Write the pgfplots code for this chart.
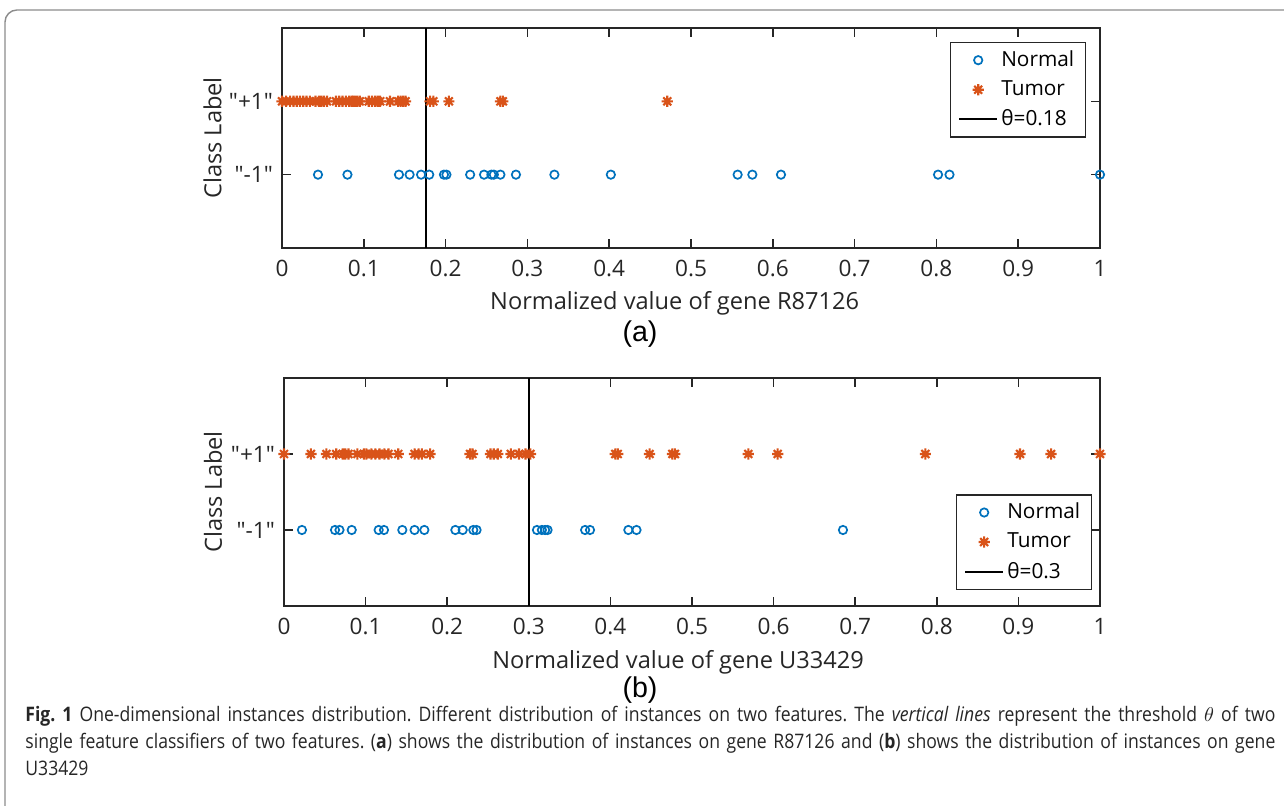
\documentclass[border=0pt]{standalone}
\usepackage{fontspec}
\setmainfont{Open Sans}
\newfontfamily\arialf{Liberation Sans}
\newfontfamily\capfont[FakeStretch=0.88]{Open Sans}
\usepackage{pgfplots}
\pgfplotsset{compat=1.18}
\definecolor{axc}{HTML}{262626}
\definecolor{mblue}{HTML}{0072BD}
\definecolor{morange}{HTML}{D95319}
\definecolor{frame}{HTML}{8C8C8C}
\newcommand{\q}{\textquotedbl}
\newcommand{\labfont}{\fontsize{11.8}{14}\selectfont}
\pgfdeclareplotmark{mstar}{%
 \pgfpathmoveto{\pgfqpoint{-\pgfplotmarksize}{0pt}}\pgfpathlineto{\pgfqpoint{\pgfplotmarksize}{0pt}}%
 \pgfpathmoveto{\pgfqpoint{0pt}{-\pgfplotmarksize}}\pgfpathlineto{\pgfqpoint{0pt}{\pgfplotmarksize}}%
 \pgfpathmoveto{\pgfqpoint{-0.707\pgfplotmarksize}{-0.707\pgfplotmarksize}}\pgfpathlineto{\pgfqpoint{0.707\pgfplotmarksize}{0.707\pgfplotmarksize}}%
 \pgfpathmoveto{\pgfqpoint{-0.707\pgfplotmarksize}{0.707\pgfplotmarksize}}\pgfpathlineto{\pgfqpoint{0.707\pgfplotmarksize}{-0.707\pgfplotmarksize}}%
 \pgfusepathqstroke}
\pgfplotsset{
 ptlegend/.style={legend image code/.code={\draw[##1] plot coordinates {(9.5pt,0pt)};}},
 lnlegend/.style={legend image code/.code={\draw[##1] (0pt,0pt) -- (19pt,0pt);}},
 normalpts/.style={only marks, mark=o, mark size=2.1pt, draw=mblue, mark options={line width=0.85pt, draw=mblue}, ptlegend},
 tumorpts/.style={only marks, mark=mstar, mark size=2.8pt, draw=morange, mark options={line width=1.05pt, draw=morange}, ptlegend},
 thline/.style={black, line width=0.9pt, lnlegend},
 mystyle/.style={
  scale only axis, clip=false,
  xmin=0, xmax=1, ymin=0, ymax=3,
  xtick={0,0.1,0.2,0.3,0.4,0.5,0.6,0.7,0.8,0.9,1},
  xticklabels={0,0.1,0.2,0.3,0.4,0.5,0.6,0.7,0.8,0.9,1},
  ytick={1,2}, yticklabels={{\q-1\q},{\q+1\q}},
  axis line style={draw=axc, line width=0.8pt},
  tick style={draw=axc, line width=0.8pt},
  major tick length=4.5pt,
  ticklabel style={font=\fontsize{11.3}{13}\selectfont, text=axc},
  xticklabel style={yshift=-2.5pt},
  yticklabel style={xshift=-1pt},
  /pgf/number format/assume math mode=true,
  legend cell align=left,
  legend style={draw=axc, line width=0.6pt, fill=white, font=\fontsize{10.4}{12}\selectfont, text=black,
    inner xsep=4pt, inner ysep=2.5pt, row sep=2.4pt, nodes={inner sep=1.6pt}},
 }
}
\begin{document}
\begin{tikzpicture}
\path[use as bounding box] (0,0) rectangle (642pt,403pt);
\draw[frame, line width=0.7pt, rounded corners=6pt] (2.5pt,-10pt) -- (2.5pt,398pt) -- (660pt,398pt);
% ---------- (a)
\begin{axis}[mystyle, at={(141pt,279pt)}, anchor=south west, width=409pt, height=110pt,
  xlabel={Normalized value of gene R87126}, ylabel={Class Label},
  every axis x label/.style={at={(axis description cs:0.48,-0.25)}, anchor=center, font=\labfont, text=axc},
  every axis y label/.style={at={(axis description cs:-0.085,0.5)}, rotate=90, anchor=center, font=\labfont, text=axc},
  legend style={at={(1,1)}, anchor=north east, xshift=-7pt, yshift=-7pt}]
\addplot[normalpts] coordinates {(0.044,1)(0.080,1)(0.143,1)(0.156,1)(0.170,1)(0.180,1)(0.198,1)(0.201,1)(0.230,1)(0.247,1)(0.256,1)(0.259,1)(0.267,1)(0.286,1)(0.333,1)(0.402,1)(0.557,1)(0.575,1)(0.610,1)(0.802,1)(0.816,1)(1.000,1)};
\addlegendentry{Normal}
\addplot[tumorpts] coordinates {(0,2)(0.005,2)(0.010,2)(0.014,2)(0.018,2)(0.022,2)(0.026,2)(0.030,2)(0.034,2)(0.041,2)(0.045,2)(0.048,2)(0.051,2)(0.055,2)(0.066,2)(0.070,2)(0.074,2)(0.078,2)(0.082,2)(0.085,2)(0.087,2)(0.089,2)(0.092,2)(0.095,2)(0.106,2)(0.110,2)(0.114,2)(0.117,2)(0.120,2)(0.132,2)(0.142,2)(0.145,2)(0.148,2)(0.151,2)(0.181,2)(0.185,2)(0.204,2)(0.267,2)(0.270,2)(0.471,2)};
\addlegendentry{Tumor}
\addplot[thline] coordinates {(0.176,0)(0.176,3)};
\addlegendentry{θ=0.18}
\end{axis}
\node[font=\arialf\fontsize{14.3}{16}\selectfont] at (320pt,236pt) {(a)};
% ---------- (b)
\begin{axis}[mystyle, at={(142pt,100pt)}, anchor=south west, width=408pt, height=114pt,
  xlabel={Normalized value of gene U33429}, ylabel={Class Label},
  every axis x label/.style={at={(axis description cs:0.483,-0.245)}, anchor=center, font=\labfont, text=axc},
  every axis y label/.style={at={(axis description cs:-0.087,0.5)}, rotate=90, anchor=center, font=\labfont, text=axc},
  legend style={at={(1,0)}, anchor=south east, xshift=-4pt, yshift=8pt}]
\addplot[normalpts] coordinates {(0.022,1)(0.0625,1)(0.068,1)(0.083,1)(0.116,1)(0.1225,1)(0.145,1)(0.160,1)(0.172,1)(0.210,1)(0.219,1)(0.232,1)(0.236,1)(0.310,1)(0.316,1)(0.320,1)(0.323,1)(0.369,1)(0.375,1)(0.422,1)(0.432,1)(0.685,1)};
\addlegendentry{Normal}
\addplot[tumorpts] coordinates {(0,2)(0.033,2)(0.052,2)(0.064,2)(0.072,2)(0.075,2)(0.079,2)(0.090,2)(0.098,2)(0.101,2)(0.107,2)(0.112,2)(0.117,2)(0.123,2)(0.128,2)(0.140,2)(0.160,2)(0.165,2)(0.169,2)(0.179,2)(0.228,2)(0.231,2)(0.253,2)(0.257,2)(0.262,2)(0.278,2)(0.288,2)(0.296,2)(0.302,2)(0.406,2)(0.409,2)(0.448,2)(0.476,2)(0.479,2)(0.569,2)(0.605,2)(0.786,2)(0.902,2)(0.940,2)(1.000,2)};
\addlegendentry{Tumor}
\addplot[thline] coordinates {(0.300,0)(0.300,3)};
\addlegendentry{θ=0.3}
\end{axis}
\node[font=\arialf\fontsize{14.3}{16}\selectfont] at (320pt,58pt) {(b)};
% ---------- caption
\node[anchor=north west, inner sep=0pt, text width=625pt, align=justify,
  font=\capfont\fontsize{10}{13.5}\selectfont, text=black!85] at (12.5pt,50pt)
 {\frenchspacing\textbf{Fig.~1} One-dimensional instances distribution. Different distribution of instances on two features. The \textit{vertical lines} represent the threshold $\theta$ of two\linebreak single feature classifiers of two features. (\textbf{a}) shows the distribution of instances on gene R87126 and (\textbf{b}) shows the distribution of instances on gene\linebreak U33429\par};
\end{tikzpicture}
\end{document}
